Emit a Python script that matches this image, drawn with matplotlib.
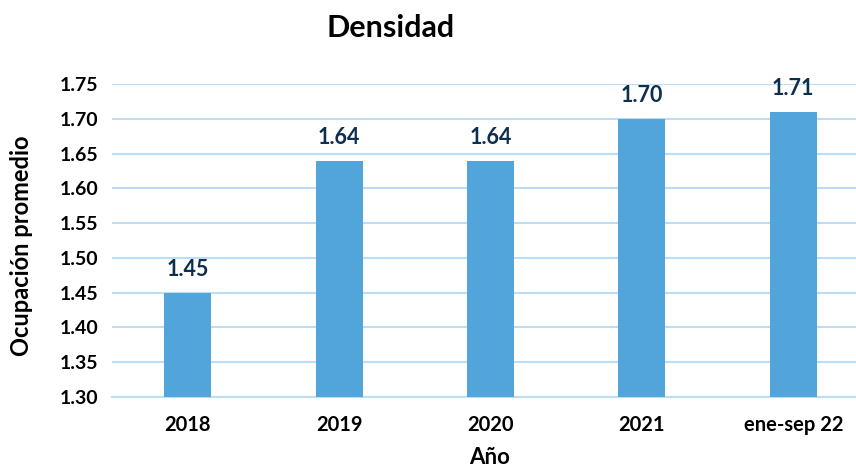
import numpy as np
import matplotlib.pyplot as plt

plt.rcParams['font.family'] = ['Lato', 'DejaVu Sans']

# Data
categories = ['2018', '2019', '2020', '2021', 'ene-sep 22']
values = [1.45, 1.64, 1.64, 1.70, 1.71]
yticks = [1.30, 1.35, 1.40, 1.45, 1.50, 1.55, 1.60, 1.65, 1.70, 1.75]

bar_color = '#52A5DB'
grid_color = '#BDDDF5'
label_color = '#0D2E4E'

fig = plt.figure(figsize=(8.56, 4.67), dpi=100)
ax = fig.add_axes([112 / 856, 1 - 397 / 467, 757 / 856, 313 / 467])

x = np.arange(len(categories))
ax.bar(x, [v - 1.30 for v in values], bottom=1.30, width=0.31, color=bar_color, zorder=3)

for xi, v in zip(x, values):
    ax.text(xi, v + 0.018, f'{v:.2f}', ha='center', va='bottom', fontsize=15.5,
            fontweight='bold', color=label_color, clip_on=False)

ax.set_xlim(-0.5, len(categories) - 0.5)
ax.set_ylim(1.30, 1.75)
ax.set_yticks(yticks)
ax.set_yticklabels([f'{t:.2f}' for t in yticks], fontsize=14, fontweight='bold')
ax.set_xticks(x)
ax.set_xticklabels(categories, fontsize=14.5, fontweight='bold')
ax.tick_params(axis='y', length=0, pad=10)
ax.tick_params(axis='x', length=0, pad=13)

ax.yaxis.grid(True, color=grid_color, linewidth=1.5, zorder=0)
for s in ['top', 'right', 'left']:
    ax.spines[s].set_visible(False)
ax.spines['bottom'].set_color(grid_color)
ax.spines['bottom'].set_linewidth(1.5)

fig.text(391 / 856, 1 - 28 / 467, 'Densidad', ha='center', va='center',
         fontsize=22, fontweight='bold')
fig.text(22 / 856, 1 - 246 / 467, 'Ocupación promedio', ha='center', va='center',
         rotation=90, fontsize=17, fontweight='bold')
fig.text(490 / 856, 1 - 458 / 467, 'Año', ha='center', va='center',
         fontsize=16, fontweight='bold')

fig.savefig('out.png', dpi=100)
